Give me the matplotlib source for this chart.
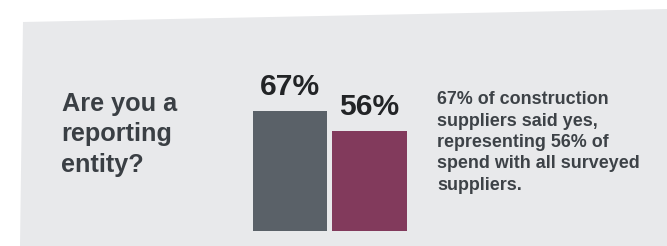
import matplotlib.pyplot as plt
from matplotlib.patches import Polygon

# data
labels = ["Construction suppliers", "Spend"]
values = [67, 56]
bar_colors = ["#5a6168", "#823a5c"]
question = ["Are you a", "reporting", "entity?"]
note = ["67% of construction", "suppliers said yes,", "representing 56% of",
        "spend with all surveyed", "suppliers."]

W, H = 667, 246
plt.rcParams['font.family'] = ['Liberation Sans', 'DejaVu Sans']

fig = plt.figure(figsize=(W / 100, H / 100), dpi=100)
fig.patch.set_facecolor("white")

# light grey panel, slightly skewed like the photo of the slide
px = lambda x, y: (x / W, 1 - y / H)  # pixel (from top) -> figure fraction
panel = Polygon([px(23, 22), px(667, 9), px(667, 246), px(20, 246)],
                closed=True, transform=fig.transFigure,
                facecolor="#e8e9eb", edgecolor="none", zorder=-1)
fig.patches.append(panel)

# bars
ax = fig.add_axes([249.8 / W, 15 / H, 159.6 / W, 179 / H])
ax.set_facecolor("none")
x = range(len(values))
bars = ax.bar(x, values, width=0.93, color=bar_colors)
for b, v in zip(bars, values):
    ax.annotate(f"{v}%", (b.get_x() + b.get_width() / 2, v),
                xytext=(0, 11.5), textcoords="offset points",
                ha="center", va="baseline", fontsize=21.6,
                fontweight="bold", color="#222426")
ax.set_xlim(-0.5, 1.5)
ax.set_ylim(0, 100)
ax.axis("off")

# question on the left
for i, line in enumerate(question):
    fig.text(*px(61.5, 110.7 + i * 30.5), line, fontsize=18.2,
             fontweight="bold", color="#3a3f44", va="baseline", ha="left")

# note on the right
for i, line in enumerate(note):
    fig.text(*px(437, 104.5 + i * 21.3), line, fontsize=12.9,
             fontweight="bold", color="#3d4247", va="baseline", ha="left")

fig.savefig("out.png", dpi=100)
